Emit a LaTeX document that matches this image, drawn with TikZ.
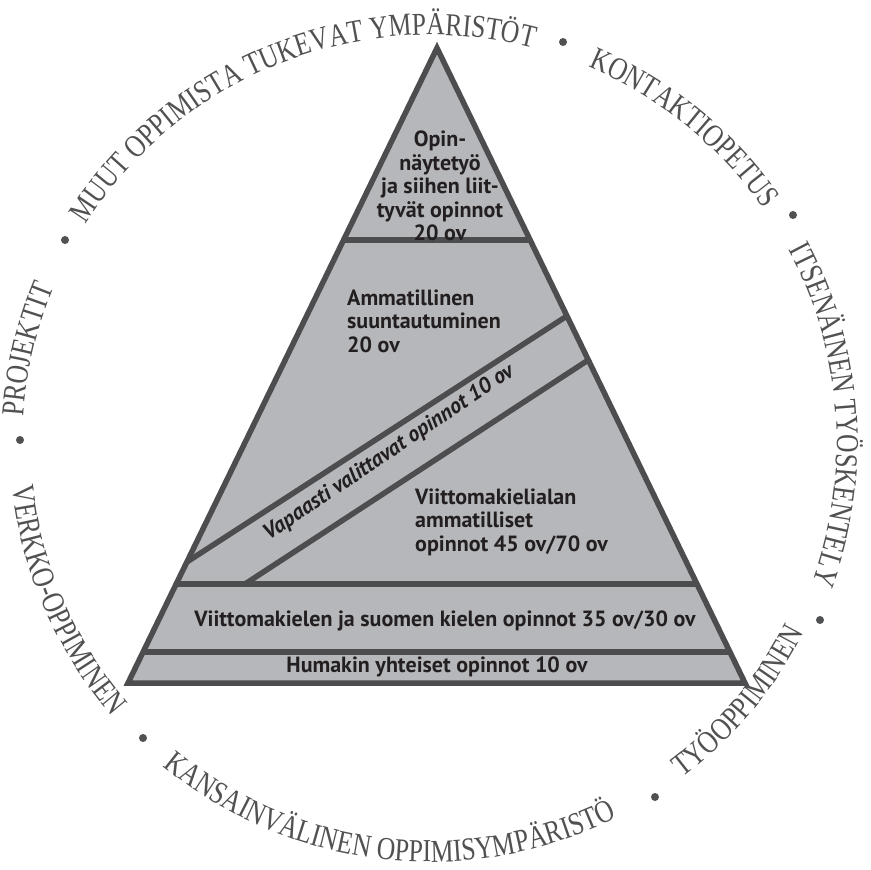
\documentclass[tikz,border=0pt]{standalone}
\usepackage{fontspec}
\setmainfont{PT Sans}
\newfontfamily\circfam{Liberation Serif}[FakeStretch=0.8]
\usetikzlibrary{decorations.text,calc}
\definecolor{pyrfill}{HTML}{B5B7BA}
\definecolor{pyrline}{HTML}{4D4D4F}
\definecolor{pyrtext}{HTML}{231F20}
\definecolor{circtext}{HTML}{505153}
\newcommand\circfont{\circfam\fontsize{32}{36}\selectfont\color{circtext}}
\begin{document}
\begin{tikzpicture}[x=1pt,y=1pt,
  pyrlabel/.style={text=pyrtext, font=\bfseries\fontsize{22}{23.5}\selectfont, inner sep=0pt},
  pyrline/.style={draw=pyrline, line width=5.5pt},
  circtxt/.style={decorate, decoration={text along path, text align=center, text={|\circfont|#1}}},
  bulletdot/.style={circle, fill=circtext, inner sep=0pt, minimum size=8pt}
]
\useasboundingbox (0,0) rectangle (871,-870);
% pyramid corners
\coordinate (A) at (437,-48);
\coordinate (BL) at (128,-683);
\coordinate (BR) at (745,-683);
\fill[pyrfill] (A)--(BL)--(BR)--cycle;
% horizontal division points
\coordinate (h1l) at ($(A)!0.3024!(BL)$);
\coordinate (h1r) at ($(A)!0.3024!(BR)$);
\coordinate (h2l) at ($(A)!0.8441!(BL)$);
\coordinate (h2r) at ($(A)!0.8441!(BR)$);
\coordinate (h3l) at ($(A)!0.9512!(BL)$);
\coordinate (h3r) at ($(A)!0.9512!(BR)$);
% diagonal band
\coordinate (d1l) at ($(A)!0.8094!(BL)$);
\coordinate (d1r) at ($(A)!0.4220!(BR)$);
\coordinate (d2l) at (245,-584);
\coordinate (d2r) at ($(A)!0.4913!(BR)$);
\draw[pyrline] (h1l) -- (h1r);
\draw[pyrline] (h2l) -- (h2r);
\draw[pyrline] (h3l) -- (h3r);
\draw[pyrline] (d1l) -- (d1r);
\draw[pyrline] (d2l) -- (d2r);
\draw[pyrline, line join=miter] (A)--(BL)--(BR)--cycle;
% labels
\node[pyrlabel, align=center] (top) at (440,-186) {Opin-\\näytetyö\\ja siihen liit-\\tyvät opinnot\\20 ov};
\node[pyrlabel, align=left, anchor=west] (amm) at (347,-321) {Ammatillinen\\suuntautuminen\\20 ov};
\node[pyrlabel, align=left, anchor=west] (vma) at (415,-522) {Viittomakielialan\\ammatilliset\\opinnot 45 ov/70 ov};
\node[pyrlabel] (vk) at (445,-621) {Viittomakielen ja suomen kielen opinnot 35 ov/30 ov};
\node[pyrlabel] (hum) at (437,-667) {Humakin yhteiset opinnot 10 ov};
\node[pyrlabel, font=\bfseries\itshape\fontsize{22}{23}\selectfont, rotate=34] (vap) at (389,-453) {Vapaasti valittavat opinnot 10 ov};
% circular text
\coordinate (C) at (430,-442);
\path[circtxt={PROJEKTIT}] (C) ++(187:407) arc[start angle=187, end angle=147, radius=407];
\path[circtxt={MUUT OPPIMISTA TUKEVAT YMPÄRISTÖT}] (C) ++(162:407) arc[start angle=162, end angle=61, radius=407];
\path[circtxt={KONTAKTIOPETUS}] (C) ++(77:407) arc[start angle=77, end angle=25, radius=407];
\path[circtxt={ITSENÄINEN TYÖSKENTELY}] (C) ++(39:407) arc[start angle=39, end angle=-31, radius=407];
\path[circtxt={VERKKO-OPPIMINEN}] (C) ++(177:420) arc[start angle=177, end angle=230, radius=420];
\path[circtxt={KANSAINVÄLINEN OPPIMISYMPÄRISTÖ}] (C) ++(216:420) arc[start angle=216, end angle=311, radius=420];
\path[circtxt={TYÖOPPIMINEN}] (C) ++(298:420) arc[start angle=298, end angle=342, radius=420];
% bullets
\node[bulletdot] (b1) at (20,-440) {};
\node[bulletdot] (b2) at (65,-240) {};
\node[bulletdot] (b3) at (563,-42) {};
\node[bulletdot] (b4) at (793,-215) {};
\node[bulletdot] (b5) at (820,-620) {};
\node[bulletdot] (b6) at (655,-797) {};
\node[bulletdot] (b7) at (143,-738) {};
\end{tikzpicture}
\end{document}
